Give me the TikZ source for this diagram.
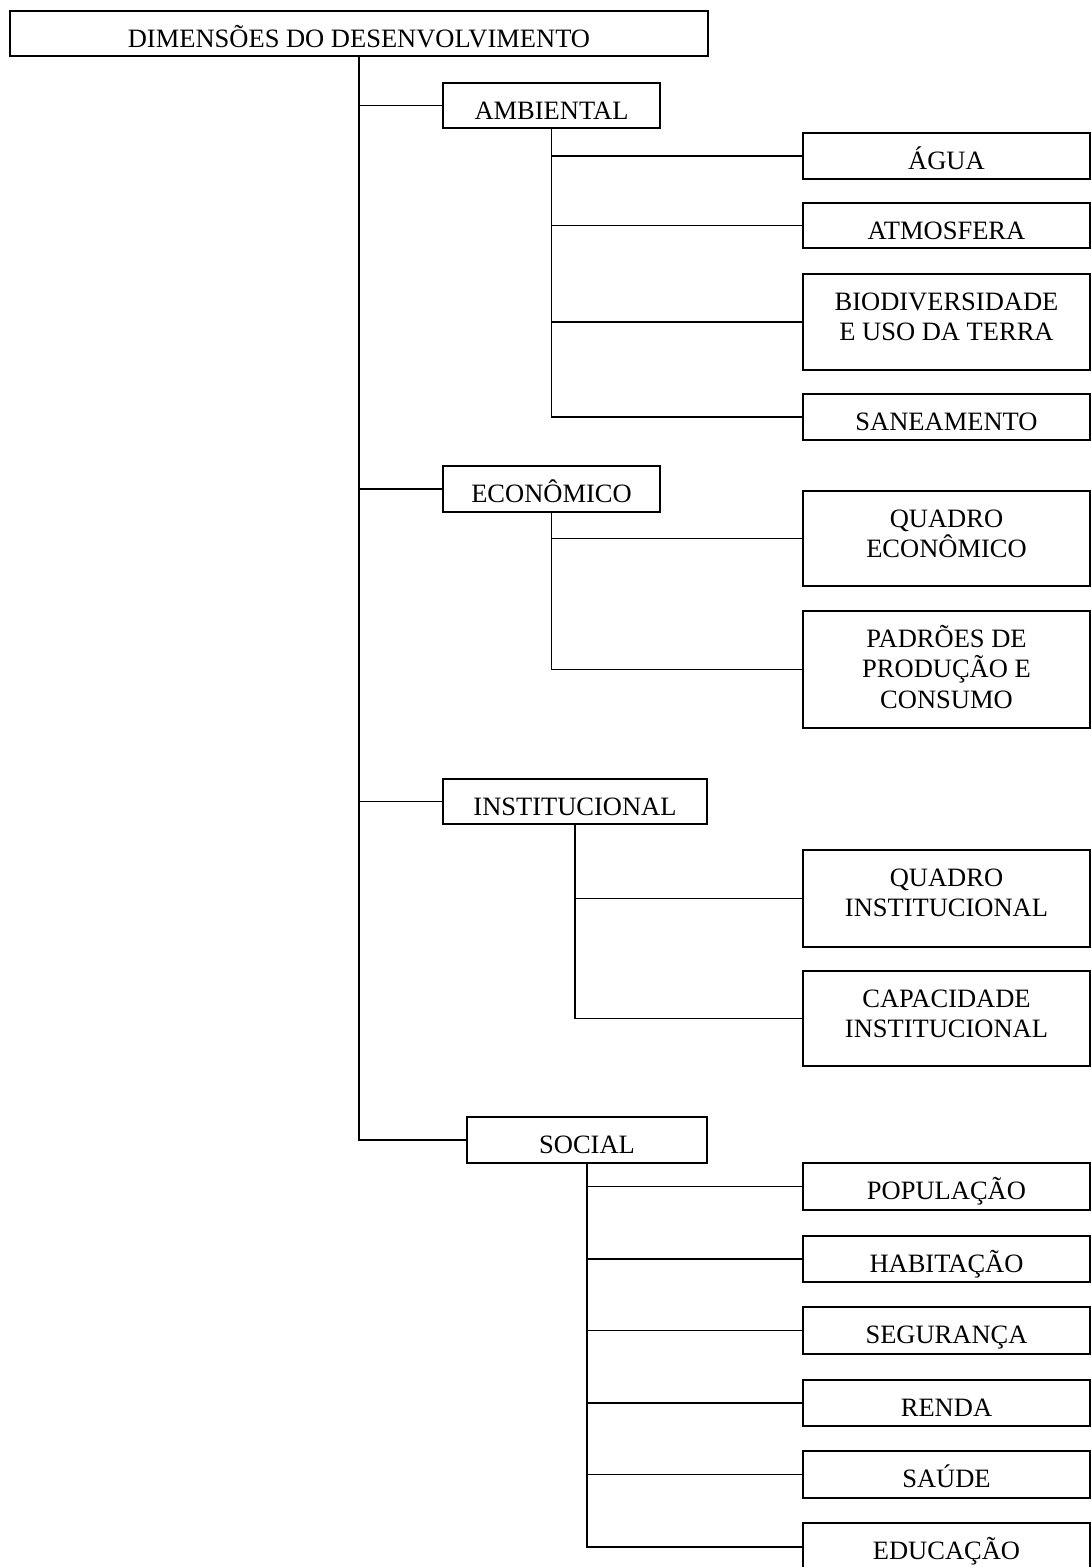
\documentclass[tikz,border=0pt]{standalone}
\usepackage{fontspec}
\setmainfont{Liberation Serif}
\newcommand{\bxt}[3]{\parbox[c][#2pt][t]{#1pt}{\centering\rule{0pt}{36pt}#3}}
\begin{document}
\begin{tikzpicture}[x=1pt,y=-1pt,
  box/.style={draw=black, line width=1.7pt, rectangle, inner sep=0pt, font=\fontsize{26.5pt}{30.5pt}\selectfont},
  conn/.style={draw=black, line width=1.7pt}]
\useasboundingbox (0,0) rectangle (1091,1567);
% root
\node[box] (top) at (359,33.5) {\bxt{698}{45}{DIMENSÕES DO DESENVOLVIMENTO}};
% level 1
\node[box] (amb) at (551.5,105.5) {\bxt{217}{45}{AMBIENTAL}};
\node[box] (eco) at (551.5,489) {\bxt{217}{46}{ECONÔMICO}};
\node[box] (ins) at (575,801.5) {\bxt{264}{45}{INSTITUCIONAL}};
\node[box] (soc) at (587,1140) {\bxt{240}{46}{SOCIAL}};
% level 2 - ambiental
\node[box] (agua) at (946.5,156) {\bxt{287}{46}{ÁGUA}};
\node[box] (atm) at (946.5,225.5) {\bxt{287}{45}{ATMOSFERA}};
\node[box] (bio) at (946.5,322) {\bxt{287}{96}{BIODIVERSIDADE\\E USO DA TERRA}};
\node[box] (san) at (946.5,417) {\bxt{287}{46}{SANEAMENTO}};
% economico
\node[box] (qe) at (946.5,538.5) {\bxt{287}{95}{QUADRO\\ECONÔMICO}};
\node[box] (pad) at (946.5,669.5) {\bxt{287}{117}{PADRÕES DE\\PRODUÇÃO E\\CONSUMO}};
% institucional
\node[box] (qi) at (946.5,898.5) {\bxt{287}{97}{QUADRO\\INSTITUCIONAL}};
\node[box] (cap) at (946.5,1018.5) {\bxt{287}{95}{CAPACIDADE\\INSTITUCIONAL}};
% social
\node[box] (pop) at (946.5,1186.5) {\bxt{287}{47}{POPULAÇÃO}};
\node[box] (hab) at (946.5,1259) {\bxt{287}{46}{HABITAÇÃO}};
\node[box] (seg) at (946.5,1330.5) {\bxt{287}{47}{SEGURANÇA}};
\node[box] (ren) at (946.5,1403) {\bxt{287}{46}{RENDA}};
\node[box] (sau) at (946.5,1474.5) {\bxt{287}{47}{SAÚDE}};
\node[box] (edu) at (946.5,1547) {\bxt{287}{48}{EDUCAÇÃO}};
% main trunk
\draw[conn] (top.south) |- (soc.west);
\draw[conn] (top.south |- amb.west) -- (amb.west);
\draw[conn] (top.south |- eco.west) -- (eco.west);
\draw[conn] (top.south |- ins.west) -- (ins.west);
% ambiental branch
\draw[conn] (amb.south) |- (san.west);
\draw[conn] (amb.south |- agua.west) -- (agua.west);
\draw[conn] (amb.south |- atm.west) -- (atm.west);
\draw[conn] (amb.south |- bio.west) -- (bio.west);
% economico branch
\draw[conn] (eco.south) |- (pad.west);
\draw[conn] (eco.south |- qe.west) -- (qe.west);
% institucional branch
\draw[conn] (ins.south) |- (cap.west);
\draw[conn] (ins.south |- qi.west) -- (qi.west);
% social branch
\draw[conn] (soc.south) |- (edu.west);
\draw[conn] (soc.south |- pop.west) -- (pop.west);
\draw[conn] (soc.south |- hab.west) -- (hab.west);
\draw[conn] (soc.south |- seg.west) -- (seg.west);
\draw[conn] (soc.south |- ren.west) -- (ren.west);
\draw[conn] (soc.south |- sau.west) -- (sau.west);
\end{tikzpicture}
\end{document}
